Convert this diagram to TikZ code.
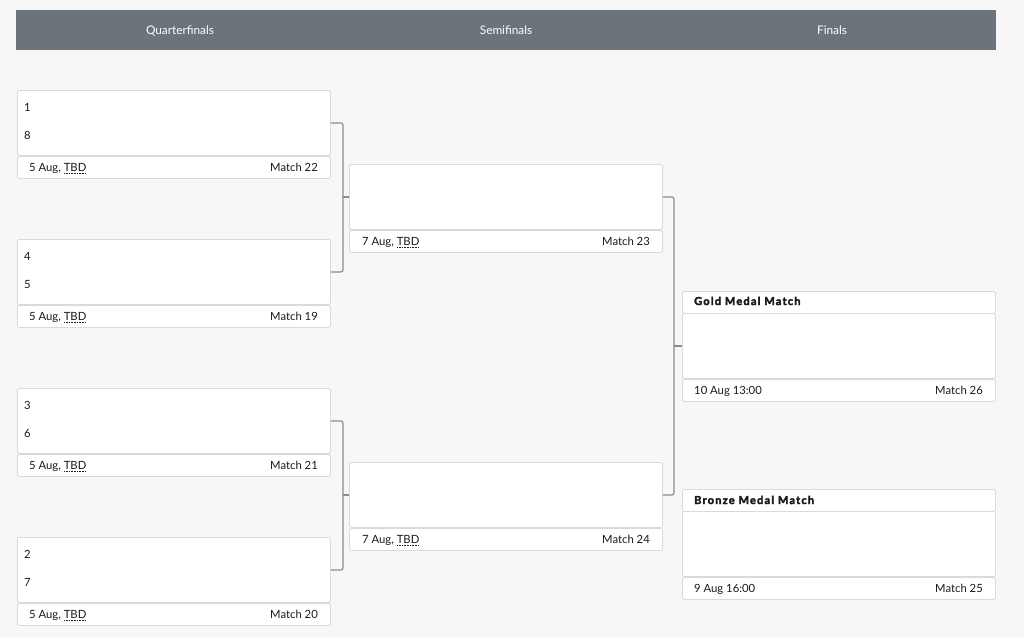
\documentclass[tikz,border=0pt]{standalone}
\usepackage{fontspec}
\setmainfont{Lato}
\newfontfamily\heavyfont[LetterSpace=11,BoldFeatures={FakeBold=3}]{Lato}
\definecolor{bgc}{HTML}{F7F7F7}
\definecolor{hdr}{HTML}{6D737A}
\definecolor{brd}{HTML}{DADADA}
\definecolor{conc}{HTML}{8C8C8C}
\definecolor{txc}{HTML}{1A1A1A}
\newcommand\dotul[1]{\setbox0\hbox{#1}\rlap{\raisebox{-2.6pt}{\hbox to \wd0{\leaders\hbox to 1.6pt{\hss\rule{0.8pt}{0.7pt}\hss}\hfill}}}\box0}
\tikzset{
  box/.style={draw=brd, line width=0.9pt, fill=white, rounded corners=2pt, anchor=north west, inner sep=0pt, minimum width=313pt},
  mainbox/.style={box, minimum height=65pt},
  footbox/.style={box, minimum height=22pt},
  txt/.style={anchor=base west, inner sep=0pt, text=txc, font=\fontsize{11.3}{13}\selectfont},
  rtxt/.style={anchor=base east, inner sep=0pt, text=txc, font=\fontsize{11.3}{13}\selectfont},
  htxt/.style={anchor=base, inner sep=0pt, text=white, font=\fontsize{11.8}{13}\selectfont},
  medal/.style={anchor=base west, inner sep=0pt, text=txc, font=\fontsize{11}{13}\heavyfont\bfseries},
  conn/.style={draw=conc, line width=1.2pt, rounded corners=2pt},
}
\begin{document}
\begin{tikzpicture}[x=1pt,y=-1pt]
\fill[bgc] (0,0) rectangle (1024,638);
\useasboundingbox (0,0) rectangle (1024,638);
% header
\node[fill=hdr, anchor=north west, inner sep=0pt, minimum width=980pt, minimum height=40pt] (hdr) at (16,10) {};
\node[htxt] (hq) at (180,34) {Quarterfinals};
\node[htxt] (hs) at (506,34) {Semifinals};
\node[htxt] (hf) at (832,34) {Finals};
% quarterfinals
\node[mainbox] (q1) at (17,90) {};
\node[footbox] (q1f) at (17,156) {};
\node[txt] (q1a) at (24,111) {1};
\node[txt] (q1b) at (24,139) {8};
\node[txt] (q1d) at (29,171) {5 Aug, \dotul{TBD}};
\node[rtxt] (q1m) at (318,171) {Match 22};

\node[mainbox] (q2) at (17,239) {};
\node[footbox] (q2f) at (17,305) {};
\node[txt] (q2a) at (24,260) {4};
\node[txt] (q2b) at (24,288) {5};
\node[txt] (q2d) at (29,320) {5 Aug, \dotul{TBD}};
\node[rtxt] (q2m) at (318,320) {Match 19};

\node[mainbox] (q3) at (17,388) {};
\node[footbox] (q3f) at (17,454) {};
\node[txt] (q3a) at (24,409) {3};
\node[txt] (q3b) at (24,437) {6};
\node[txt] (q3d) at (29,469) {5 Aug, \dotul{TBD}};
\node[rtxt] (q3m) at (318,469) {Match 21};

\node[mainbox] (q4) at (17,537) {};
\node[footbox] (q4f) at (17,603) {};
\node[txt] (q4a) at (24,558) {2};
\node[txt] (q4b) at (24,586) {7};
\node[txt] (q4d) at (29,618) {5 Aug, \dotul{TBD}};
\node[rtxt] (q4m) at (318,618) {Match 20};
% semifinals
\node[mainbox] (s1) at (349,164) {};
\node[footbox] (s1f) at (349,230) {};
\node[txt] (s1d) at (362,245) {7 Aug, \dotul{TBD}};
\node[rtxt] (s1m) at (650,245) {Match 23};

\node[mainbox] (s2) at (349,462) {};
\node[footbox] (s2f) at (349,528) {};
\node[txt] (s2d) at (362,543) {7 Aug, \dotul{TBD}};
\node[rtxt] (s2m) at (650,543) {Match 24};
% finals
\node[footbox] (gh) at (682,291) {};
\node[medal] (ght) at (694,305) {Gold Medal Match};
\node[mainbox] (g) at (682,313) {};
\node[footbox] (gf) at (682,379) {};
\node[txt] (gd) at (694,394) {10 Aug 13:00};
\node[rtxt] (gm) at (983,394) {Match 26};

\node[footbox] (bh) at (682,489) {};
\node[medal] (bht) at (694,504) {Bronze Medal Match};
\node[mainbox] (b) at (682,511) {};
\node[footbox] (bf) at (682,577) {};
\node[txt] (bd) at (694,592) {9 Aug 16:00};
\node[rtxt] (bm) at (983,592) {Match 25};
% connectors
\draw[conn] (q1.east) -- ++(12,0) |- (q2.east);
\coordinate (j1) at ([xshift=12pt]q1.east |- s1.west);
\draw[conn, rounded corners=0pt] (j1) -- (s1.west);
\draw[conn] (q3.east) -- ++(12,0) |- (q4.east);
\coordinate (j2) at ([xshift=12pt]q3.east |- s2.west);
\draw[conn, rounded corners=0pt] (j2) -- (s2.west);
\draw[conn] (s1.east) -- ++(11,0) |- (s2.east);
\coordinate (j3) at ([xshift=11pt]s1.east |- g.west);
\draw[conn, rounded corners=0pt] (j3) -- (g.west);
\end{tikzpicture}
\end{document}
